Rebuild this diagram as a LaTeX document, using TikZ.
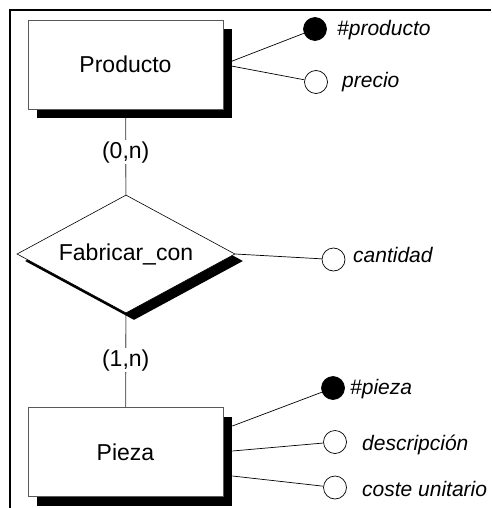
\documentclass[tikz,border=0pt]{standalone}
\usepackage{fontspec}
\setmainfont{Liberation Sans}
\usetikzlibrary{shapes.geometric,shadows,calc,backgrounds}

\begin{document}
\begin{tikzpicture}[x=1pt,y=-1pt,
  ent/.style={rectangle,draw=black!65,line width=0.7pt,fill=white,minimum width=195pt,minimum height=89pt,inner sep=0pt,
    font=\fontsize{23}{27}\selectfont,drop shadow={shadow xshift=9pt,shadow yshift=-9pt,fill=black,opacity=1}},
  rel/.style={diamond,draw,line width=0.6pt,fill=white,aspect=1.85,minimum width=218pt,minimum height=118pt,inner sep=0pt,
    font=\fontsize{23}{27}\selectfont,drop shadow={shadow xshift=8pt,shadow yshift=-7pt,fill=black,opacity=1}},
  att/.style={circle,draw,line width=0.7pt,fill=white,minimum size=23pt,inner sep=0pt},
  clave/.style={att,fill=black},
  atxt/.style={anchor=base west,inner sep=0pt,font=\fontsize{21}{25}\selectfont\itshape},
  card/.style={fill=white,inner sep=1.5pt,font=\fontsize{23}{27}\selectfont},
  rama/.style={draw=black!55,line width=1.1pt}]
  \useasboundingbox (0,0) rectangle (491,508);
  % marco
  \draw[line width=2.2pt] (491,10) -| (10,508);
  % entidades y relacion
  \node[ent] (prod) at (125.5,64.5) {Producto};
  \node[rel] (fab) at (126,254) {Fabricar\_con};
  \node[ent] (pz) at (125.5,452) {Pieza};
  % atributos
  \node[clave] (kprod) at (315,29) {};
  \node[atxt] (tkprod) at (337,36) {\#producto};
  \node[att] (aprecio) at (316,82) {};
  \node[atxt] (tprecio) at (342,88) {precio};
  \node[att] (acant) at (333.5,259.5) {};
  \node[atxt] (tcant) at (353,262) {cantidad};
  \node[clave] (kpz) at (333,388) {};
  \node[atxt] (tkpz) at (350,394) {\#pieza};
  \node[att] (adesc) at (335,442) {};
  \node[atxt] (tdesc) at (362,450) {descripción};
  \node[att] (acoste) at (335,487.5) {};
  \node[atxt] (tcoste) at (362,496.5) {coste unitario};
  \coordinate (pz1) at ($(pz.east)+(9,-26)$);
  \coordinate (pz2) at ($(pz.east)+(9,-1)$);
  \coordinate (pz3) at ($(pz.east)+(9,24)$);
  \begin{scope}[on background layer]
    \draw[rama] (prod) -- node[card] (c1) {(0,n)} (fab);
    \draw[rama] (fab) -- node[card] (c2) {(1,n)} (pz);
    \draw[line width=0.7pt] (prod.east) -- (kprod) (prod.east) -- (aprecio);
    \draw[line width=0.7pt] (fab.east) -- (acant);
    \draw[line width=0.7pt] (pz1) -- (kpz) (pz2) -- (adesc) (pz3) -- (acoste);
  \end{scope}
\end{tikzpicture}
\end{document}
